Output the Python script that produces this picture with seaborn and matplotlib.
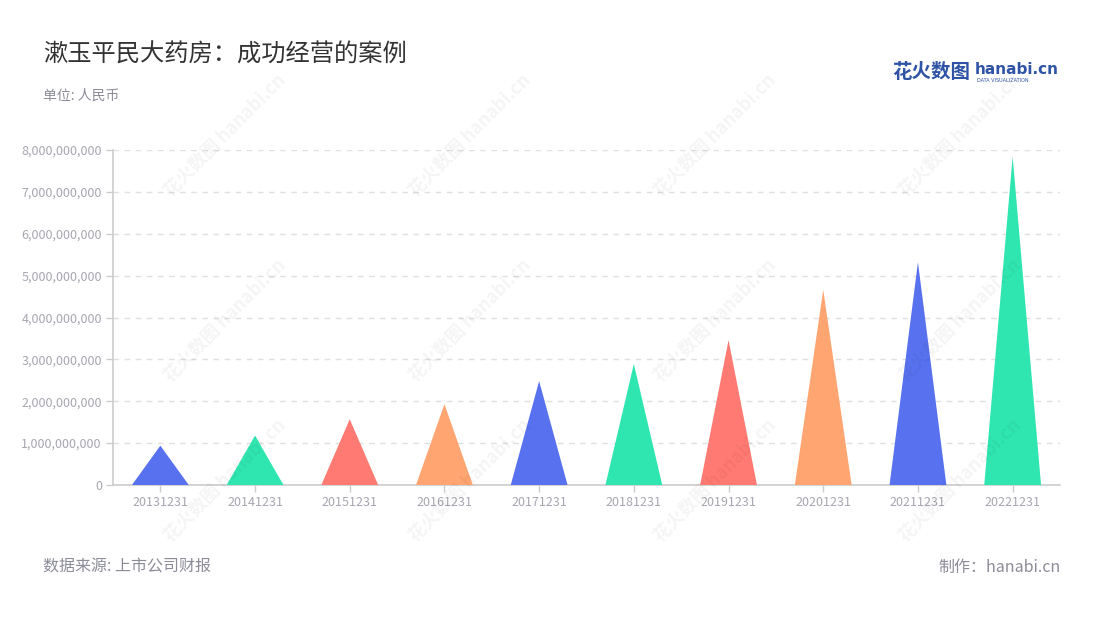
import matplotlib
matplotlib.use("Agg")
import matplotlib.pyplot as plt
import seaborn as sns
import pandas as pd
from matplotlib.patches import Polygon
from matplotlib.ticker import FuncFormatter

# ---- data ----
categories = ["20131231", "20141231", "20151231", "20161231", "20171231",
              "20181231", "20191231", "20201231", "20211231", "20221231"]
revenue = [0.94e9, 1.18e9, 1.57e9, 1.93e9, 2.48e9,
           2.89e9, 3.46e9, 4.66e9, 5.32e9, 7.84e9]
palette = ["#5871EE", "#2FE6B1", "#FF7A72", "#FFA572"]
title = "漱玉平民大药房：成功经营的案例"
unit = "单位: 人民币"
source = "数据来源: 上市公司财报"
maker = "制作：hanabi.cn"

sns.set_theme(style="white")
plt.rcParams['font.family'] = ['Noto Sans CJK SC', 'DejaVu Sans']

df = pd.DataFrame({"date": categories, "revenue": revenue})
bar_colors = [palette[i % len(palette)] for i in range(len(categories))]

fig = plt.figure(figsize=(11, 6.2), dpi=100)
ax = fig.add_axes([113/1100, 1-485/620, (1060-113)/1100, (485-150)/620])

sns.barplot(data=df, x="date", y="revenue", hue="date", palette=bar_colors,
            legend=False, width=0.6, ax=ax)

# replace rectangular bars with triangles
for patch, c in zip(list(ax.patches), bar_colors):
    x0 = patch.get_x()
    w = patch.get_width()
    h = patch.get_height()
    tri = Polygon([[x0, 0], [x0 + w / 2, h], [x0 + w, 0]], closed=True,
                  facecolor=c, edgecolor="none", zorder=3)
    ax.add_patch(tri)
    patch.set_visible(False)

ax.set_ylim(0, 8e9)
ax.set_xlim(-0.5, len(categories) - 0.5)
ax.set_yticks([i * 1e9 for i in range(9)])
ax.yaxis.set_major_formatter(FuncFormatter(lambda v, p: f"{int(v):,}"))
ax.set_xlabel("")
ax.set_ylabel("")
ax.grid(axis="y", color="#E0E0E0", linestyle=(0, (4, 4)), linewidth=1)
ax.set_axisbelow(True)
for s in ["top", "right"]:
    ax.spines[s].set_visible(False)
for s in ["left", "bottom"]:
    ax.spines[s].set_color("#CCCCCC")
    ax.spines[s].set_linewidth(1.2)
ax.tick_params(axis="both", which="both", length=5, width=1, color="#CCCCCC",
               labelcolor="#A6A6B0", labelsize=9, pad=3,
               bottom=True, left=True)

# watermarks
wm_pos = [(170, 175), (415, 175), (660, 175), (905, 175),
          (170, 360), (415, 360), (660, 360), (905, 360),
          (415, 520), (660, 520), (905, 520), (170, 520)]
for (px, py) in wm_pos:
    fig.text((px + 55) / 1100, 1 - (py - 40) / 620, "花火数图 hanabi.cn",
             rotation=45, fontsize=13, color="#000000", alpha=0.045,
             ha="center", va="center", fontweight="bold", zorder=0)

# titles
fig.text(43/1100, 1 - 55/620, title, fontsize=17.5, color="#333333",
         ha="left", va="center")
fig.text(43/1100, 1 - 96/620, unit, fontsize=10, color="#8C8C99",
         ha="left", va="center")
fig.text(43/1100, 1 - 567/620, source, fontsize=11.5, color="#8C8C99",
         ha="left", va="center")
fig.text(1061/1100, 1 - 567/620, maker, fontsize=11.5, color="#8C8C99",
         ha="right", va="center")

# logo
fig.text(892/1100, 1 - 73/620, "花火数图", fontsize=14, color="#2F54A6",
         ha="left", va="center", fontweight="bold")
fig.text(975/1100, 1 - 70/620, "hanabi.cn", fontsize=11, color="#2F54A6",
         ha="left", va="center", fontweight="bold", family=['DejaVu Sans'])
fig.text(977/1100, 1 - 80/620, "DATA VISUALIZATION", fontsize=3.5,
         color="#2F54A6", ha="left", va="center", family=['DejaVu Sans'])

fig.savefig("out.png", dpi=100, facecolor="white")
